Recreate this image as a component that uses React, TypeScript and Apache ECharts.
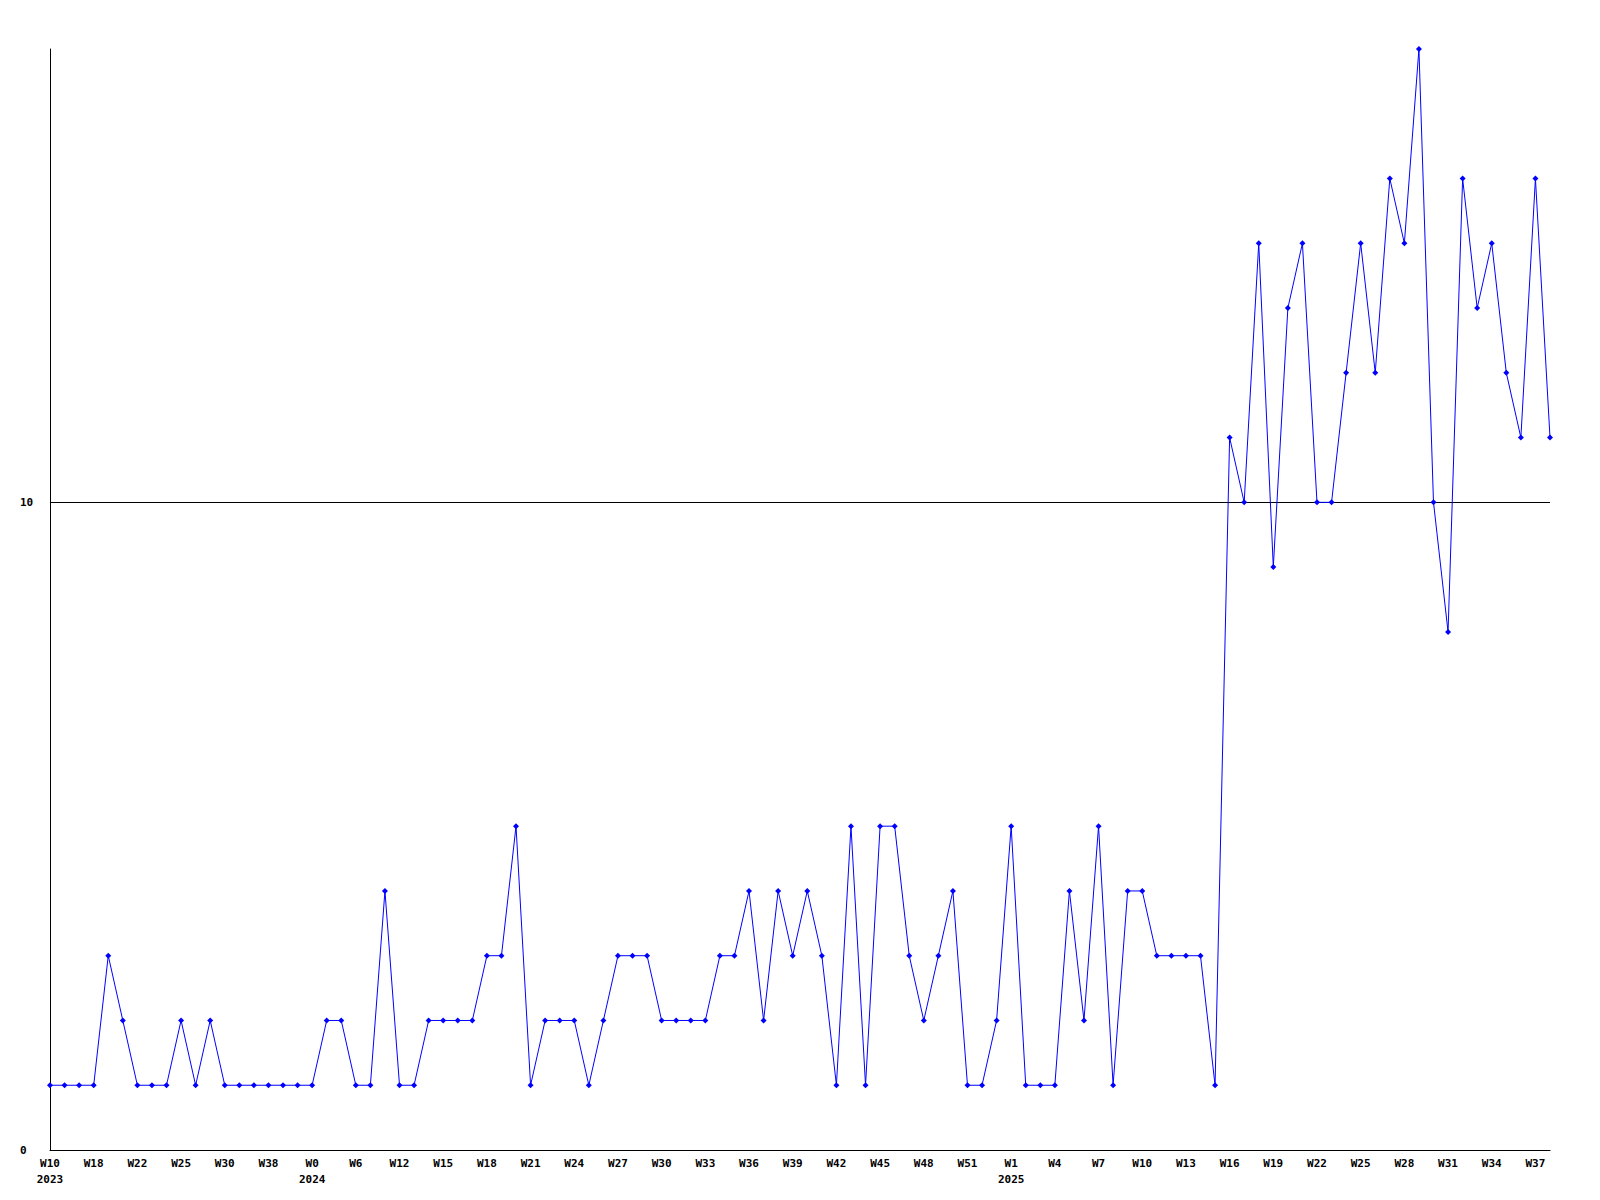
import React, { useEffect, useRef } from "react";
import * as echarts from "echarts";

// Week labels for each point (points are equally spaced)
const weeks: string[] = [
  "W10", "W14", "W16", "W18", "W19", "W20", "W22", "W23", "W24", "W25",
  "W27", "W28", "W30", "W33", "W36", "W38", "W44", "W50",
  "W0", "W2", "W4", "W6", "W9", "W11", "W12", "W13", "W14", "W15", "W16", "W17",
  "W18", "W19", "W20", "W21", "W22", "W23", "W24", "W25", "W26", "W27",
  "W28", "W29", "W30", "W31", "W32", "W33", "W34", "W35", "W36", "W37",
  "W38", "W39", "W40", "W41", "W42", "W43", "W44", "W45", "W46", "W47",
  "W48", "W49", "W50", "W51", "W52", "W0",
  "W1", "W2", "W3", "W4", "W5", "W6", "W7", "W8", "W9", "W10",
  "W11", "W12", "W13", "W14", "W15", "W16", "W17", "W18", "W19", "W20",
  "W21", "W22", "W23", "W24", "W25", "W26", "W27", "W28", "W29", "W30",
  "W31", "W32", "W33", "W34", "W35", "W36", "W37", "W38",
];

// Year of each point
const years: number[] = [
  ...Array(18).fill(2023),
  ...Array(47).fill(2024),
  ...Array(39).fill(2025),
];

const values: number[] = [
  1, 1, 1, 1, 3, 2, 1, 1, 1, 2,
  1, 2, 1, 1, 1, 1, 1, 1, 1, 2,
  2, 1, 1, 4, 1, 1, 2, 2, 2, 2,
  3, 3, 5, 1, 2, 2, 2, 1, 2, 3,
  3, 3, 2, 2, 2, 2, 3, 3, 4, 2,
  4, 3, 4, 3, 1, 5, 1, 5, 5, 3,
  2, 3, 4, 1, 1, 2, 5, 1, 1, 1,
  4, 2, 5, 1, 4, 4, 3, 3, 3, 3,
  1, 11, 10, 14, 9, 13, 14, 10, 10, 12,
  14, 12, 15, 14, 17, 10, 8, 15, 13, 14,
  12, 11, 15, 11,
];

const yTicks: number[] = [0, 10];
const Y_MAX = 17;
const LABEL_STEP = 3;

// Build category labels: week, plus year under the first shown label of each year
const categories: string[] = (() => {
  let lastYear: number | null = null;
  return weeks.map((w, i) => {
    if (i % LABEL_STEP !== 0) return w;
    const y = years[i];
    const s = y !== lastYear ? `${w}\n${y}` : w;
    lastYear = y;
    return s;
  });
})();

export default function App() {
  const ref = useRef<HTMLDivElement>(null);
  useEffect(() => {
    if (!ref.current) return;
    const chart = echarts.init(ref.current, null, { renderer: "svg" });
    const font = {
      fontFamily: "'DejaVu Sans Mono', monospace",
      fontWeight: "bold" as const,
      fontSize: 11,
      color: "#000",
    };
    chart.setOption({
      animation: false,
      backgroundColor: "#fff",
      grid: { left: 50, right: 50, top: 49, bottom: 50, containLabel: false },
      xAxis: {
        type: "category",
        data: categories,
        boundaryGap: false,
        axisLine: { show: true, lineStyle: { color: "#000", width: 1 } },
        axisTick: { show: false },
        axisLabel: {
          ...font,
          interval: LABEL_STEP - 1,
          margin: 5,
          lineHeight: 16,
          verticalAlign: "top",
        },
        splitLine: { show: false },
      },
      yAxis: {
        type: "value",
        min: yTicks[0],
        max: Y_MAX,
        interval: yTicks[1] - yTicks[0],
        axisLine: { show: true, lineStyle: { color: "#000", width: 1 } },
        axisTick: { show: false },
        axisLabel: { ...font, align: "left", margin: 30, showMaxLabel: false },
        splitLine: {
          show: true,
          lineStyle: { color: ["#000", "#000", "rgba(0,0,0,0)"], width: 1 },
        },
      },
      series: [
        {
          type: "line",
          data: values,
          symbol: "diamond",
          symbolSize: 6,
          showAllSymbol: true,
          lineStyle: { color: "#0000ff", width: 1 },
          itemStyle: { color: "#0000ff" },
        },
      ],
    });
    return () => chart.dispose();
  }, []);
  return (
    <div
      ref={ref}
      style={{ position: "absolute", left: 0, top: 0, width: 1600, height: 1200 }}
    />
  );
}
